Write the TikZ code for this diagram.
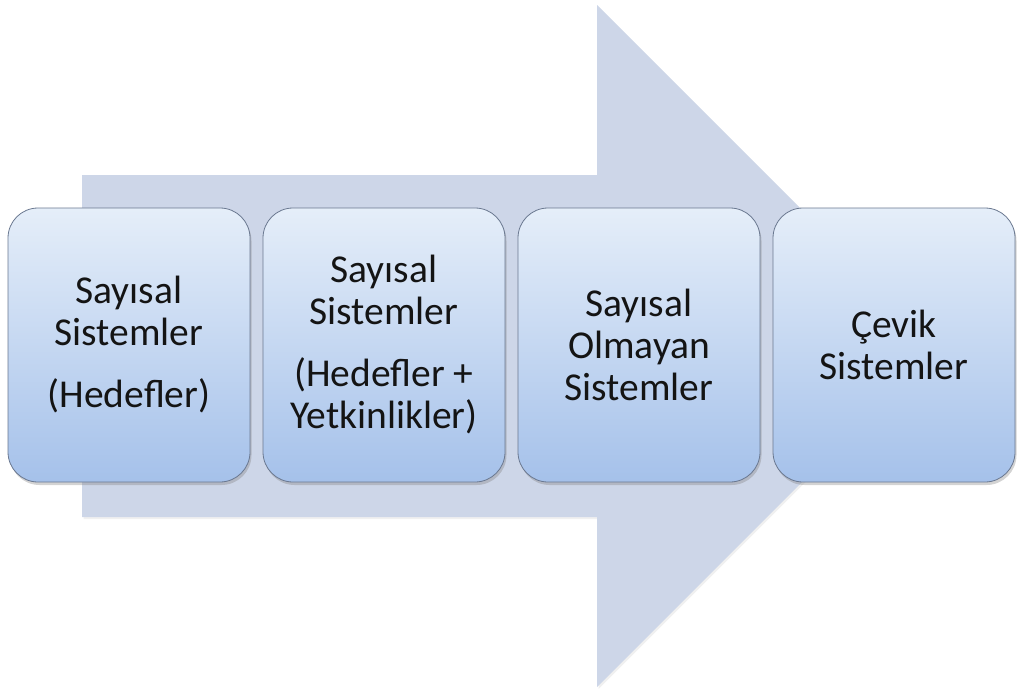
\documentclass[tikz,border=0pt]{standalone}
\usepackage{fontspec}
\setmainfont{Carlito}
\usetikzlibrary{shadows}
\definecolor{arrowfill}{HTML}{CDD6E8}
\definecolor{boxtop}{HTML}{E5EEF9}
\definecolor{boxbot}{HTML}{A5C1EA}
\definecolor{boxline}{HTML}{6A7890}
\definecolor{txt}{HTML}{141414}
\tikzset{
  stepbox/.style={draw=boxline, line width=0.8pt, rounded corners=30pt,
    top color=boxtop, bottom color=boxbot,
    minimum width=242pt, minimum height=274pt, inner sep=0pt,
    align=center, text=txt, font=\fontsize{39.5}{42}\selectfont,
    drop shadow={opacity=0.35, shadow xshift=1.5pt, shadow yshift=-3pt}},
  bigarrow/.style={fill=arrowfill,
    drop shadow={opacity=0.12, shadow xshift=1.5pt, shadow yshift=-2pt}}
}
\begin{document}
\begin{tikzpicture}[x=1pt,y=-1pt]
\useasboundingbox (0,0) rectangle (1024,696);
\path[bigarrow] (82,175) -- (597,175) -- (597,5) -- (938,346) -- (597,687) -- (597,517) -- (82,517) -- cycle;
\node[stepbox] (b1) at (129,345) {Sayısal\\Sistemler\\[20pt](Hedefler)};
\node[stepbox] (b2) at (384,345) {Sayısal\\Sistemler\\[20pt](Hedefler +\\Yetkinlikler)};
\node[stepbox] (b3) at (639,345) {Sayısal\\Olmayan\\Sistemler};
\node[stepbox] (b4) at (894,345) {Çevik\\Sistemler};
\end{tikzpicture}
\end{document}
